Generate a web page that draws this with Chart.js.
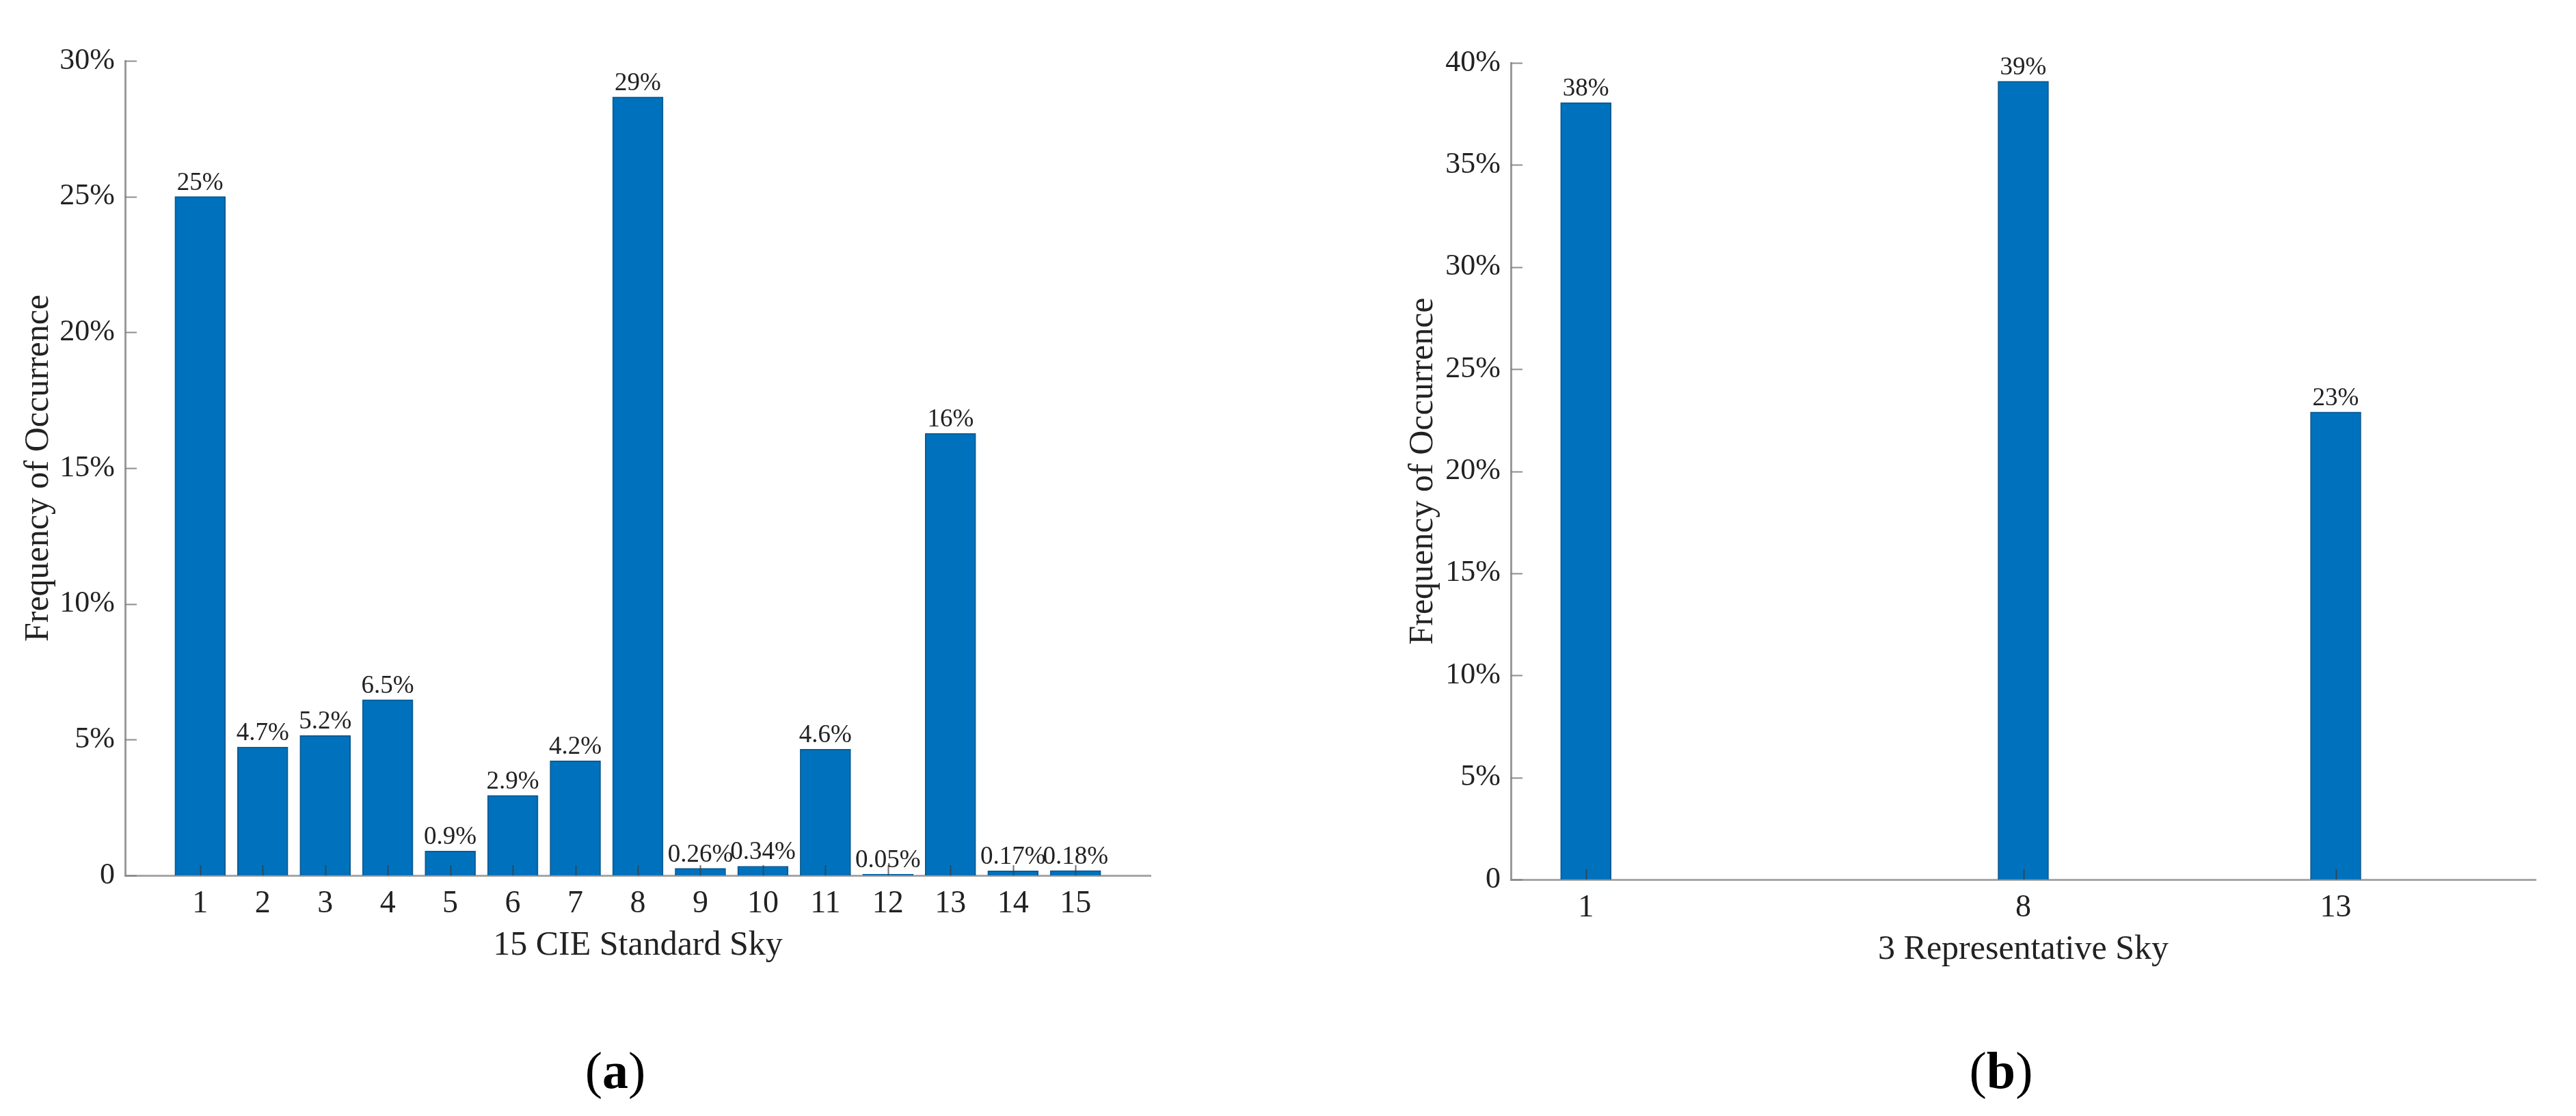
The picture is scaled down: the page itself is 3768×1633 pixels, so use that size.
<!DOCTYPE html>
<html><head><meta charset="utf-8">
<script src="https://cdn.jsdelivr.net/npm/chart.js@4.4.1/dist/chart.umd.min.js"></script>
<style>
html,body{margin:0;padding:0;background:#fff;}
body{width:3768px;height:1633px;position:relative;overflow:hidden;}
.wrap{position:absolute;top:0;width:1884px;height:1633px;}
.panel{position:absolute;font-family:'Liberation Serif',serif;font-size:76px;color:#000;transform:translate(-50%,-50%);line-height:1;white-space:nowrap;}
</style></head><body>
<div class="wrap" style="left:0"><canvas id="ca" width="1884" height="1633"></canvas></div>
<div class="wrap" style="left:1884px"><canvas id="cb" width="1884" height="1633"></canvas></div>
<div class="panel" style="left:900px;top:1566px">(<b>a</b>)</div>
<div class="panel" style="left:2927px;top:1566px">(<b>b</b>)</div>
<script>
// ---- data ----
const skyA = [1,2,3,4,5,6,7,8,9,10,11,12,13,14,15];
const freqA = [25.0, 4.73, 5.15, 6.47, 0.9, 2.95, 4.22, 28.67, 0.26, 0.34, 4.65, 0.05, 16.28, 0.17, 0.18];
const labelsA = ['25%','4.7%','5.2%','6.5%','0.9%','2.9%','4.2%','29%','0.26%','0.34%','4.6%','0.05%','16%','0.17%','0.18%'];
const yMaxA = 30;
const skyB = [1, 8, 13];
const freqB = [38.05, 39.1, 22.9];
const labelsB = ['38%','39%','23%'];
const yMaxB = 40;
const yStep = 5;
const xTitleA = '15 CIE Standard Sky';
const xTitleB = '3 Representative Sky';
const yTitle = 'Frequency of Occurrence';

const FONT = "'Liberation Serif', 'Times New Roman', serif";
const TXT = '#222';

const innerTicks = {
  id: 'innerTicks',
  afterDatasetsDraw(chart) {
    const ctx = chart.ctx, xs = chart.scales.x, ys = chart.scales.y, a = chart.chartArea;
    ctx.save();
    ctx.lineWidth = 2;
    ctx.strokeStyle = 'rgba(60,60,60,0.75)';
    xs.ticks.forEach(t => {
      const px = Math.round(xs.getPixelForValue(t.value)) + 0.5;
      ctx.beginPath(); ctx.moveTo(px, a.bottom); ctx.lineTo(px, a.bottom - 15); ctx.stroke();
    });
    ctx.strokeStyle = 'rgba(130,130,130,0.9)';
    ys.ticks.forEach(t => {
      const py = Math.round(ys.getPixelForValue(t.value)) + 0.5;
      ctx.beginPath(); ctx.moveTo(a.left, py); ctx.lineTo(a.left + 17, py); ctx.stroke();
    });
    ctx.restore();
  }
};

const barText = {
  id: 'barText',
  afterDatasetsDraw(chart, args, opts) {
    const ctx = chart.ctx;
    const meta = chart.getDatasetMeta(0);
    ctx.save();
    ctx.font = '37px ' + FONT;
    ctx.fillStyle = TXT;
    ctx.textAlign = 'center';
    ctx.textBaseline = 'alphabetic';
    meta.data.forEach((el, i) => {
      ctx.fillText(opts.labels[i], el.x, el.y - 10);
    });
    ctx.restore();
  }
};

function makeChart(id, cats, vals, labels, yMax, xTitle, pad, yTitlePad) {
  return new Chart(document.getElementById(id), {
    type: 'bar',
    data: {
      datasets: [{
        data: cats.map((c, i) => ({x: c, y: vals[i]})),
        backgroundColor: '#0072BD',
        borderColor: '#0a5a92',
        borderWidth: 2,
        barThickness: 74
      }]
    },
    options: {
      responsive: false,
      animation: false,
      devicePixelRatio: 1,
      layout: { padding: pad },
      plugins: {
        legend: { display: false },
        tooltip: { enabled: false },
        barText: { labels: labels }
      },
      scales: {
        x: {
          type: 'linear',
          min: -0.2, max: 16.2,
          offset: false,
          afterBuildTicks: s => { s.ticks = cats.map(v => ({value: v})); },
          afterFit: s => { s.height = 133; },
          grid: { display: false, drawTicks: false, offset: false },
          border: { display: true, color: '#a6a6a6', width: 3 },
          ticks: { autoSkip: false, maxRotation: 0, padding: 14, color: TXT,
                   font: { family: FONT, size: 46 }, callback: v => String(v) },
          title: { display: true, text: xTitle, color: TXT, padding: {top: 0, bottom: 0},
                   font: { family: FONT, size: 50 } }
        },
        y: {
          min: 0, max: yMax,
          afterFit: s => { s.width = pad.yw; },
          grid: { display: false, drawTicks: false },
          border: { display: true, color: '#9a9a9a', width: 3 },
          ticks: { stepSize: yStep, padding: 15, color: TXT,
                   font: { family: FONT, size: 44 },
                   callback: v => v === 0 ? '0' : v + '%' },
          title: { display: true, text: yTitle, color: TXT, padding: {top: yTitlePad, bottom: 0},
                   font: { family: FONT, size: 50 } }
        }
      }
    },
    plugins: [innerTicks, barText]
  });
}

makeChart('ca', skyA, freqA, labelsA, yMaxA, xTitleA, {left: 0, top: 89, right: 201, bottom: 219, yw: 183}, 27);
makeChart('cb', skyB, freqB, labelsB, yMaxB, xTitleB, {left: 0, top: 92, right: 59, bottom: 213, yw: 326}, 168);
</script>
</body></html>
